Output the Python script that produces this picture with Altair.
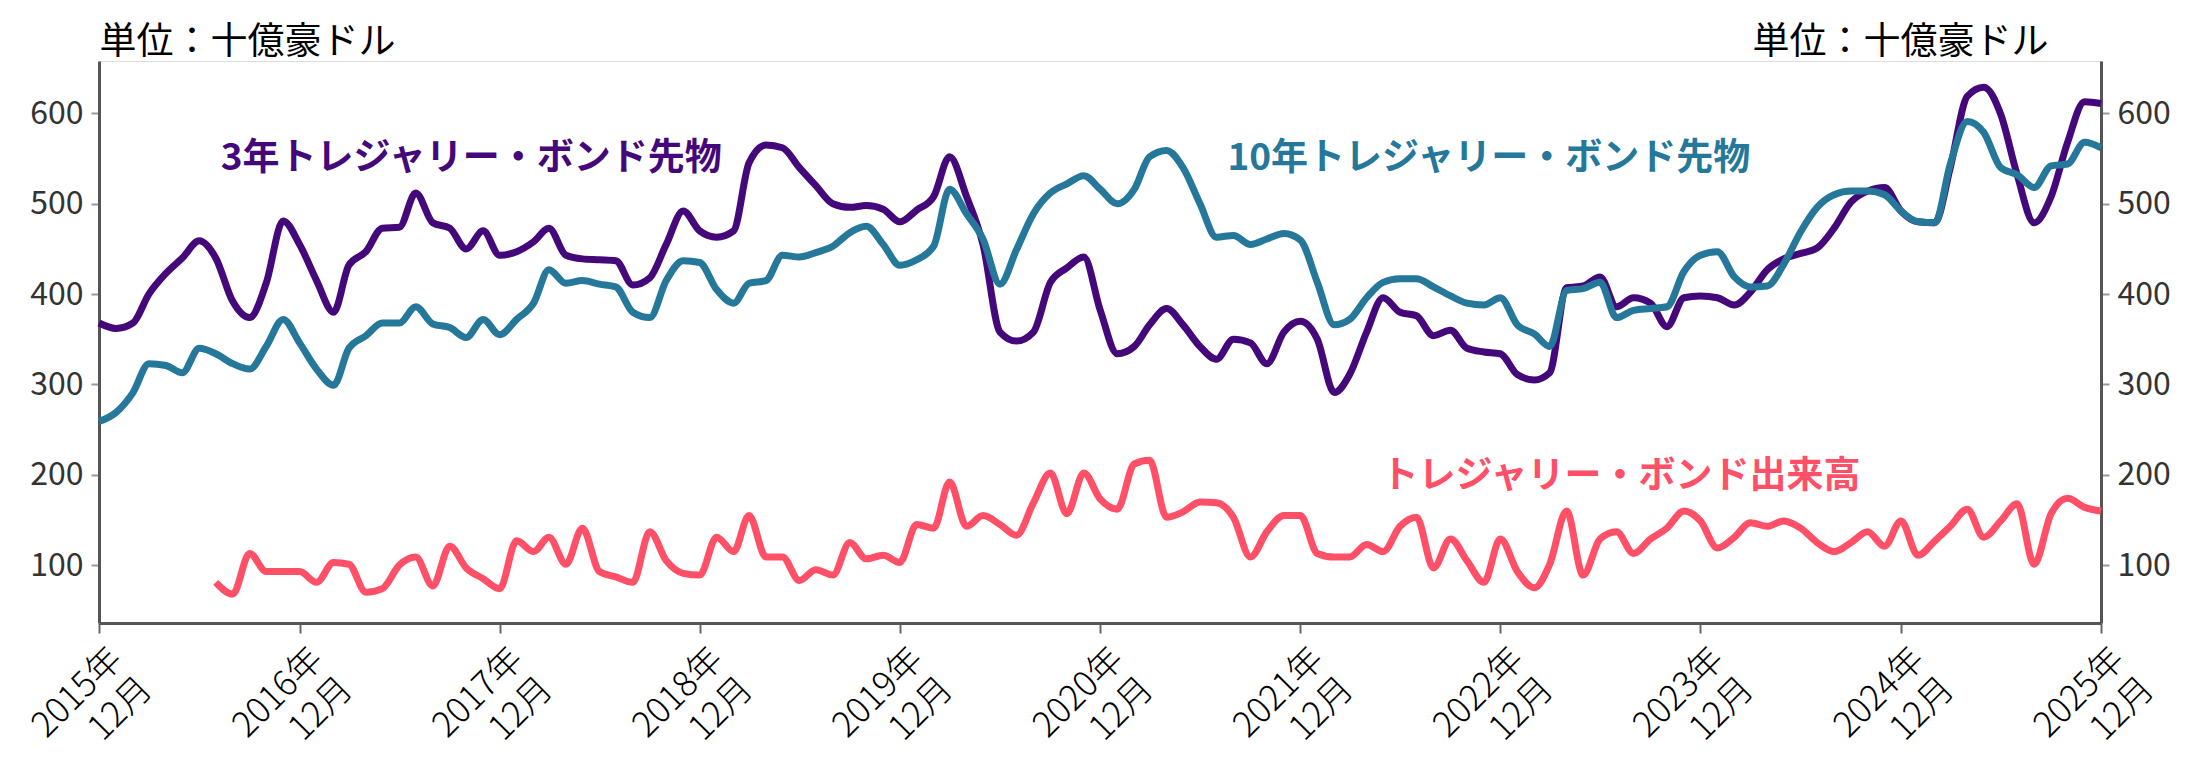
import altair as alt
import pandas as pd

# Monthly data, Dec 2015 .. Dec 2025 (AUD billions)
three_year = [368, 362, 368, 400, 423, 440, 459, 440, 392, 374, 412, 481, 455, 415, 380, 432,
              447, 473, 474, 512, 479, 473, 450, 470, 443, 447, 458, 473, 443, 439, 438, 437,
              410, 418, 455, 492, 470, 463, 470, 545, 565, 562, 540, 520, 500, 496, 498, 494,
              480, 493, 508, 552, 508, 455, 358, 348, 358, 413, 429, 441, 382, 334, 342, 366,
              384, 366, 342, 328, 350, 346, 323, 358, 370, 350, 291, 311, 358, 396, 380, 376,
              354, 360, 340, 336, 334, 311, 305, 313, 407, 409, 419, 386, 396, 390, 364, 396,
              398, 396, 388, 402, 427, 439, 445, 451, 473, 502, 514, 518, 492, 480, 479, 540,
              619, 629, 599, 532, 479, 508, 568, 613, 611]
ten_year = [259, 269, 291, 323, 321, 313, 340, 334, 323, 317, 342, 372, 346, 317, 299, 340,
            354, 368, 368, 386, 367, 363, 352, 372, 355, 372, 390, 427, 412, 415, 411, 408,
            380, 374, 415, 437, 435, 405, 390, 412, 415, 443, 441, 446, 453, 468, 475, 455,
            432, 438, 453, 516, 489, 461, 411, 449, 489, 512, 522, 531, 516, 500, 516, 552,
            559, 540, 500, 463, 465, 455, 461, 467, 460, 413, 366, 372, 396, 413, 417, 417,
            408, 398, 390, 388, 396, 366, 356, 342, 404, 406, 413, 374, 382, 384, 386, 425,
            443, 447, 419, 408, 409, 433, 469, 496, 510, 514, 514, 510, 492, 480, 479, 544,
            591, 579, 540, 532, 518, 542, 544, 568, 562]
# Turnover starts Jul 2016
turnover = [81, 68, 113, 93, 93, 93, 81, 103, 101, 70, 74, 100, 109, 77, 121, 97, 85, 74,
            127, 115, 131, 101, 141, 93, 87, 81, 137, 105, 91, 89, 131, 115, 155, 109, 109,
            83, 95, 89, 125, 107, 111, 103, 145, 141, 192, 143, 155, 145, 133, 169, 202, 157,
            202, 173, 162, 212, 216, 153, 159, 170, 169, 153, 109, 137, 155, 155, 113, 109,
            109, 123, 115, 143, 153, 97, 129, 105, 81, 129, 93, 75, 101, 160, 89, 129, 137,
            113, 129, 141, 160, 149, 119, 131, 147, 143, 149, 141, 125, 115, 125, 137, 121,
            149, 111, 127, 143, 162, 131, 149, 168, 101, 157, 174, 164, 160]

series_names = ["3年トレジャリー・ボンド先物", "10年トレジャリー・ボンド先物", "トレジャリー・ボンド出来高"]
series_colors = ["#45087a", "#26789a", "#ff5068"]
unit_label = "単位：十億豪ドル"
years = list(range(2015, 2026))


def month_dates(n, offset):
    out = []
    for m in range(offset, offset + n):
        y = 2015 + (11 + m) // 12
        mo = (11 + m) % 12 + 1
        out.append(pd.Timestamp(year=y, month=mo, day=1))
    return out


futures = pd.concat([
    pd.DataFrame({"date": month_dates(len(three_year), 0), "value": three_year, "series": series_names[0]}),
    pd.DataFrame({"date": month_dates(len(ten_year), 0), "value": ten_year, "series": series_names[1]}),
])
vol = pd.DataFrame({"date": month_dates(len(turnover), 7), "value": turnover, "series": series_names[2]})

FONT = "Noto Sans CJK JP"
ydom = [36, 658]
xscale = alt.Scale(domain=[alt.DateTime(year=2015, month=12, date=1),
                           alt.DateTime(year=2025, month=12, date=1)])
color = alt.Color("series:N", scale=alt.Scale(domain=series_names, range=series_colors), legend=None)

x_enc = alt.X("date:T", scale=xscale, title=None,
              axis=alt.Axis(values=[alt.DateTime(year=y, month=12, date=1) for y in years],
                            labelExpr="[timeFormat(datum.value, '%Y年'), (month(datum.value)+1) + '月']",
                            labelAngle=315, labelAlign="right", labelBaseline="top",
                            labelFontSize=35, labelFont=FONT, labelColor="#000",
                            labelFontWeight=300,
                            labelLineHeight=42, labelPadding=8, labelOffset=5,
                            domainColor="#555", domainWidth=3, tickColor="#666",
                            tickWidth=2, tickSize=10, grid=False))

def y_axis(orient):
    return alt.Axis(orient=orient, values=[100, 200, 300, 400, 500, 600], grid=False,
                    labelFontSize=32, labelFont=FONT, labelColor="#333", labelPadding=8,
                    domainColor="#555", domainWidth=3, tickColor="#999", tickWidth=2, tickSize=8,
                    title=unit_label, titleAngle=0, titleFontSize=37, titleFont=FONT,
                    titleFontWeight="normal", titleColor="#000",
                    titleAlign="left" if orient == "left" else "right",
                    titleBaseline="alphabetic",
                    titleX=0 if orient == "left" else -53, titleY=-8)

lines = alt.Chart(futures).mark_line(strokeWidth=7, interpolate="monotone").encode(
    x=x_enc,
    y=alt.Y("value:Q", scale=alt.Scale(domain=ydom, nice=False, zero=False), axis=y_axis("left")),
    color=color,
)
vol_line = alt.Chart(vol).mark_line(strokeWidth=7, interpolate="monotone").encode(
    x=x_enc,
    y=alt.Y("value:Q", scale=alt.Scale(domain=ydom, nice=False, zero=False), axis=y_axis("right")),
    color=color,
)

def label(text, col, when, val):
    return alt.Chart().mark_text(text=text, color=col, font=FONT, fontSize=37, fontWeight="bold",
                                 align="left", baseline="middle").encode(
        x=alt.XDatum(when, type="temporal", scale=xscale),
        y=alt.YDatum(val, scale=alt.Scale(domain=ydom, nice=False, zero=False), axis=None),
    )

lab1 = label(series_names[0], series_colors[0], alt.DateTime(year=2016, month=7, date=10), 549)
lab2 = label(series_names[1], series_colors[1], alt.DateTime(year=2021, month=7, date=21), 549)
lab3 = label(series_names[2], series_colors[2], alt.DateTime(year=2022, month=4, date=28), 198)

chart = alt.layer(lines, vol_line, lab1, lab2, lab3).resolve_scale(y="independent").properties(
    width=2002, height=562,
    autosize=alt.AutoSizeParams(type="none"),
    padding={"left": 91, "top": 53, "right": 77, "bottom": 132},
).configure_view(stroke=None).configure(background="white")

chart.save("out.html", embed_options={"renderer": "svg", "actions": False})
